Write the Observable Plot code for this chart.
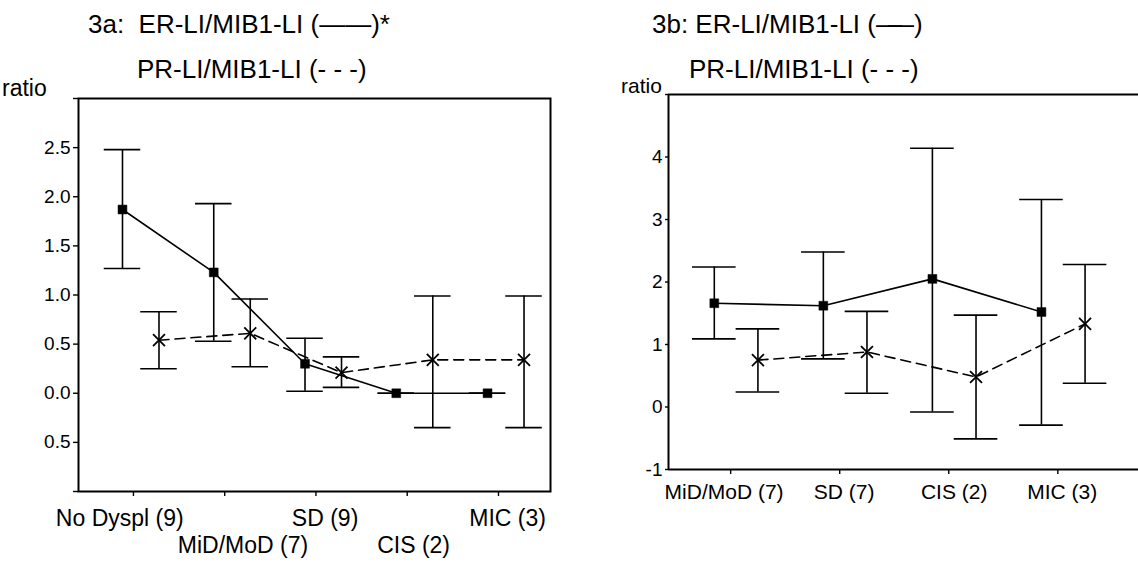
<!DOCTYPE html>
<html>
<head>
<meta charset="utf-8">
<script src="https://cdn.jsdelivr.net/npm/d3@7"></script>
<script src="https://cdn.jsdelivr.net/npm/@observablehq/plot@0.6"></script>
<style>
  html, body { margin: 0; padding: 0; background: #fff; }
  #wrap { position: relative; width: 1138px; height: 565px; overflow: hidden; font-family: "Liberation Sans", Arial, sans-serif; color: #000; }
  .ttl { position: absolute; font-size: 26px; line-height: 26px; white-space: nowrap; }
  .ratio { position: absolute; white-space: nowrap; }
  .panel { position: absolute; top: 0; }
</style>
</head>
<body>
<div id="wrap">
  <div class="panel" id="pa" style="left:0px;"></div>
  <div class="panel" id="pb" style="left:568px;"></div>
  <div class="ratio" style="left:2px; top:77px; font-size:23px; line-height:23px;">ratio</div>
  <div class="ratio" style="left:621px; top:75px; font-size:21px; line-height:21px;">ratio</div>
  <div class="ttl" style="left:88px; top:11px;">3a:&nbsp; ER-LI/MIB1-LI (——)*</div>
  <div class="ttl" style="left:137px; top:56px;">PR-LI/MIB1-LI (- - -)</div>
  <div class="ttl" style="left:652px; top:11px;">3b: ER-LI/MIB1-LI (<span style="letter-spacing:-14px">—</span>—)</div>
  <div class="ttl" style="left:689px; top:56px;">PR-LI/MIB1-LI (- - -)</div>
</div>
<script>
// ---------- Panel 3a data ----------
const categoriesA = ["No Dyspl (9)", "MiD/MoD (7)", "SD (9)", "CIS (2)", "MIC (3)"];
const erA    = [1.87, 1.23, 0.30, 0.00, 0.00];
const erLoA  = [1.27, 0.53, 0.02, 0.00, 0.00];
const erHiA  = [2.48, 1.93, 0.56, 0.00, 0.00];
const prA    = [0.54, 0.61, 0.21, 0.34, 0.34];
const prLoA  = [0.25, 0.27, 0.06, -0.35, -0.35];
const prHiA  = [0.83, 0.96, 0.37, 0.99, 0.99];
const yTicksA = [-1, -0.5, 0, 0.5, 1, 1.5, 2, 2.5, 3];
const yTickLabelsA = ["", "0.5", "0.0", "0.5", "1.0", "1.5", "2.0", "2.5", ""];

// ---------- Panel 3b data ----------
const categoriesB = ["MiD/MoD (7)", "SD (7)", "CIS (2)", "MIC (3)"];
const erB    = [1.66, 1.62, 2.05, 1.52];
const erLoB  = [1.09, 0.77, -0.08, -0.29];
const erHiB  = [2.24, 2.48, 4.14, 3.32];
const prB    = [0.75, 0.88, 0.48, 1.33];
const prLoB  = [0.24, 0.22, -0.51, 0.38];
const prHiB  = [1.25, 1.53, 1.47, 2.28];
const yTicksB = [-1, 0, 1, 2, 3, 4, 5];
const yTickLabelsB = ["-1", "0", "1", "2", "3", "4", ""];

// ---------- layout / style constants ----------
const FONT = "'Liberation Sans', Arial, sans-serif";
const PR_OFFSET = 0.4;   // PR series drawn to the right of ER
const CAP = 0.2;         // half-width of error-bar caps
const labelNudgeA = [-0.15, 0.2, 0.1, 0.07, 0.1];   // category label nudges (x units)
const labelNudgeB = [-0.06, 0.04, 0.05, 0.04];

function rows(cats, v, lo, hi, off) {
  return cats.map((c, i) => ({cat: c, x: i + off, v: v[i], lo: lo[i], hi: hi[i]}));
}

function seriesMarks(data, dashed, symbol) {
  return [
    Plot.ruleX(data, {x: "x", y1: "lo", y2: "hi", stroke: "#000", strokeWidth: 1.6}),
    Plot.ruleY(data, {y: "hi", x1: d => d.x - CAP, x2: d => d.x + CAP, stroke: "#000", strokeWidth: 1.6}),
    Plot.ruleY(data, {y: "lo", x1: d => d.x - CAP, x2: d => d.x + CAP, stroke: "#000", strokeWidth: 1.6}),
    Plot.line(data, {x: "x", y: "v", stroke: "#000", strokeWidth: 1.6, strokeDasharray: dashed ? "10,6" : null}),
    symbol === "square"
      ? Plot.dot(data, {x: "x", y: "v", symbol: "square", r: 5, fill: "#000", stroke: "#000", strokeWidth: 0.5})
      : Plot.dot(data, {x: "x", y: "v", symbol: "times", r: 5.5, stroke: "#000", strokeWidth: 1.8})
  ];
}

// ---------- Panel 3a ----------
{
  const er = rows(categoriesA, erA, erLoA, erHiA, 0);
  const pr = rows(categoriesA, prA, prLoA, prHiA, PR_OFFSET);
  const tickOff = 0.12;
  const lab = categoriesA.map((c, i) => ({c, x: i + tickOff + labelNudgeA[i], row: i % 2}));
  const plotA = Plot.plot({
    width: 560, height: 565,
    marginLeft: 78, marginTop: 98, marginRight: 10, marginBottom: 74,
    x: {domain: [-0.482, 4.69], axis: null},
    y: {domain: [-1, 3], axis: null},
    style: {fontFamily: FONT, fontSize: "19px", color: "#000", background: "transparent", overflow: "visible"},
    marks: [
      Plot.axisY({ticks: yTicksA, tickFormat: d => yTickLabelsA[yTicksA.indexOf(d)], tickSize: 5, tickPadding: 3, fontSize: 19, label: null, strokeWidth: 1.4}),
      Plot.axisX({ticks: categoriesA.map((c, i) => i + tickOff), tickFormat: () => "", tickSize: 5, label: null, strokeWidth: 1.4}),
      Plot.text(lab.filter(d => d.row === 0), {x: "x", y: () => -1, text: "c", dy: 27, lineAnchor: "middle", fontSize: 23}),
      Plot.text(lab.filter(d => d.row === 1), {x: "x", y: () => -1, text: "c", dy: 54, lineAnchor: "middle", fontSize: 23}),
      ...seriesMarks(er, false, "square"),
      ...seriesMarks(pr, true, "times"),
      Plot.frame({stroke: "#000", strokeWidth: 2})
    ]
  });
  document.getElementById("pa").appendChild(plotA);
}

// ---------- Panel 3b ----------
{
  const er = rows(categoriesB, erB, erLoB, erHiB, 0);
  const pr = rows(categoriesB, prB, prLoB, prHiB, PR_OFFSET);
  const tickOff = 0.15;
  const xDom = [-0.42, 3.89];
  const lab = categoriesB.map((c, i) => ({c, x: i + tickOff + labelNudgeB[i]}));
  const plotB = Plot.plot({
    width: 570, height: 565,
    marginLeft: 100, marginTop: 94, marginRight: 0, marginBottom: 96,
    x: {domain: xDom, axis: null},
    y: {domain: [-1, 5], axis: null},
    style: {fontFamily: FONT, fontSize: "19px", color: "#000", background: "transparent", overflow: "visible"},
    marks: [
      Plot.axisY({ticks: yTicksB, tickFormat: d => yTickLabelsB[yTicksB.indexOf(d)], tickSize: 3, tickPadding: 3, fontSize: 19, label: null, strokeWidth: 1.4}),
      Plot.axisX({ticks: categoriesB.map((c, i) => i + tickOff), tickFormat: () => "", tickSize: 5, label: null, strokeWidth: 1.4}),
      Plot.text(lab, {x: "x", y: () => -1, text: "c", dy: 23, lineAnchor: "middle", fontSize: 21}),
      ...seriesMarks(er, false, "square"),
      ...seriesMarks(pr, true, "times"),
      Plot.ruleY([-1, 5], {stroke: "#000", strokeWidth: 2}),
      Plot.ruleX([xDom[0]], {stroke: "#000", strokeWidth: 2})
    ]
  });
  document.getElementById("pb").appendChild(plotB);
}
</script>
</body>
</html>
